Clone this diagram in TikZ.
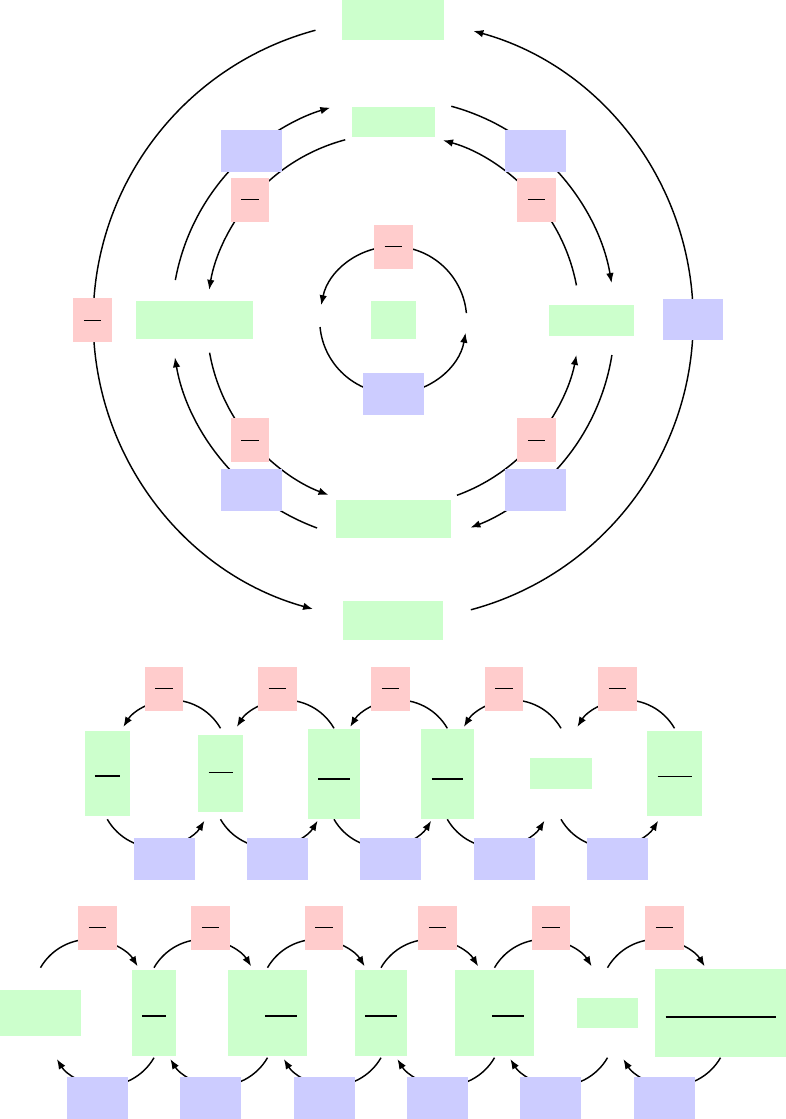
\documentclass[tikz,border=0pt]{standalone}
\usetikzlibrary{arrows.meta}
\pgfdeclarelayer{bg}
\pgfsetlayers{bg,main}
\newcommand\frbar[4]{\makebox[0pt]{\hspace{#3}\smash{\raisebox{#4}{\rule{#1}{#2}}}}}
\begin{document}
\begin{tikzpicture}[x=1pt,y=1pt,
  sp/.style={fill=green!20, inner sep=0pt, outer sep=0pt},
  rf/.style={fill=red!20, inner sep=0pt, outer sep=0pt, minimum width=38.5pt, minimum height=44pt},
  rb/.style={fill=blue!20, inner sep=0pt, outer sep=0pt, minimum width=61pt, minimum height=42pt},
  ln/.style={line width=1.45pt},
  ar/.style={line width=1.45pt, -{Latex[length=10pt,width=7.5pt]}},
]
\useasboundingbox (0,0) rectangle (786,-1119);

% ---------- circular network ----------
\coordinate (O) at (393.2,-320);
\node[sp, minimum width=102pt, minimum height=40pt] (gTo) at (393,-20) {};
\node[sp, minimum width=83pt, minimum height=30pt] (gTi) at (393.3,-121.7) {};
\node[rb] (bUL) at (251.5,-151) {};
\node[rb] (bUR) at (535.5,-151) {};
\node[rf] (pUL) at (250,-199.7) {\frbar{17.5pt}{1pt}{0pt}{-0.5pt}};
\node[rf] (pUR) at (536.5,-199.7) {\frbar{17.5pt}{1pt}{0pt}{-0.5pt}};
\node[rf] (pC) at (393.3,-246.8) {\frbar{17.5pt}{1pt}{0pt}{-0.5pt}};
\node[rf] (pL) at (92.5,-320) {\frbar{17.5pt}{1pt}{0pt}{-0.5pt}};
\node[sp, minimum width=116.7pt, minimum height=38.7pt] (gL) at (194.3,-320) {};
\node[sp, minimum width=45pt, minimum height=38.7pt] (gC) at (393.5,-320) {};
\node[sp, minimum width=85pt, minimum height=31pt] (gR) at (591.5,-320.5) {};
\node[rb, minimum width=60pt, minimum height=41pt] (bR) at (693,-319.5) {};
\node[rb] (bC) at (393.5,-394) {};
\node[rf] (pLL) at (250,-440.2) {\frbar{17.5pt}{1pt}{0pt}{-0.5pt}};
\node[rf] (pLR) at (536.5,-440.2) {\frbar{17.5pt}{1pt}{0pt}{-0.5pt}};
\node[rb] (bLL) at (251.5,-490) {};
\node[rb] (bLR) at (535.5,-490) {};
\node[sp, minimum width=115pt, minimum height=38pt] (gBi) at (393.5,-518.7) {};
\node[sp, minimum width=100pt, minimum height=39pt] (gBo) at (393,-620.5) {};

\begin{pgfonlayer}{bg}
% outer ring
\draw[ln] ([shift={(105:300pt)}]O) arc[start angle=105,end angle=180,radius=300pt];
\draw[ar] ([shift={(180:300pt)}]O) arc[start angle=180,end angle=254.5,radius=300pt];
\draw[ln] ([shift={(285:300pt)}]O) arc[start angle=285,end angle=360,radius=300pt];
\draw[ar] ([shift={(0:300pt)}]O) arc[start angle=0,end angle=74.5,radius=300pt];
% middle ring, outer arcs
\draw[ln] ([shift={(169.6:221.5pt)}]O) arc[start angle=169.6,end angle=130,radius=221.5pt];
\draw[ar] ([shift={(130:221.5pt)}]O) arc[start angle=130,end angle=106.5,radius=221.5pt];
\draw[ln] ([shift={(74.8:221.5pt)}]O) arc[start angle=74.8,end angle=50,radius=221.5pt];
\draw[ar] ([shift={(50:221.5pt)}]O) arc[start angle=50,end angle=9.6,radius=221.5pt];
\draw[ln] ([shift={(249.9:221.5pt)}]O) arc[start angle=249.9,end angle=230,radius=221.5pt];
\draw[ar] ([shift={(230:221.5pt)}]O) arc[start angle=230,end angle=189.7,radius=221.5pt];
\draw[ln] ([shift={(350.9:221.5pt)}]O) arc[start angle=350.9,end angle=310,radius=221.5pt];
\draw[ar] ([shift={(310:221.5pt)}]O) arc[start angle=310,end angle=290.4,radius=221.5pt];
% middle ring, inner arcs
\draw[ln] ([shift={(104.9:186.5pt)}]O) arc[start angle=104.9,end angle=140,radius=186.5pt];
\draw[ar] ([shift={(140:186.5pt)}]O) arc[start angle=140,end angle=170.7,radius=186.5pt];
\draw[ln] ([shift={(10.7:186.5pt)}]O) arc[start angle=10.7,end angle=40,radius=186.5pt];
\draw[ar] ([shift={(40:186.5pt)}]O) arc[start angle=40,end angle=74.5,radius=186.5pt];
\draw[ln] ([shift={(190.1:186.5pt)}]O) arc[start angle=190.1,end angle=220,radius=186.5pt];
\draw[ar] ([shift={(220:186.5pt)}]O) arc[start angle=220,end angle=249.7,radius=186.5pt];
\draw[ln] ([shift={(290:186.5pt)}]O) arc[start angle=290,end angle=320,radius=186.5pt];
\draw[ar] ([shift={(320:186.5pt)}]O) arc[start angle=320,end angle=349.2,radius=186.5pt];
% innermost ring
\draw[ln] ([shift={(5.4:73.5pt)}]O) arc[start angle=5.4,end angle=90,radius=73.5pt];
\draw[ar] ([shift={(90:73.5pt)}]O) arc[start angle=90,end angle=168.4,radius=73.5pt];
\draw[ln] ([shift={(185.5:73.5pt)}]O) arc[start angle=185.5,end angle=270,radius=73.5pt];
\draw[ar] ([shift={(270:73.5pt)}]O) arc[start angle=270,end angle=350,radius=73.5pt];
\end{pgfonlayer}

% ---------- chain 1 ----------
\node[sp, minimum width=44.7pt, minimum height=84.7pt] (g1) at (107.3,-773.3) {\frbar{25pt}{1.7pt}{0pt}{-3.25pt}};
\node[sp, minimum width=45pt, minimum height=76.7pt] (g2) at (220.5,-773.3) {\frbar{24pt}{1pt}{0pt}{0.5pt}};
\node[sp, minimum width=52pt, minimum height=90pt] (g3) at (334,-774) {\frbar{32pt}{2pt}{0pt}{-5.7pt}};
\node[sp, minimum width=52.7pt, minimum height=90pt] (g4) at (447.3,-774) {\frbar{31pt}{2pt}{0pt}{-5.7pt}};
\node[sp, minimum width=62pt, minimum height=31pt] (g5) at (561,-773.2) {};
\node[sp, minimum width=55pt, minimum height=84.7pt] (g6) at (674.5,-773.3) {\frbar{34pt}{1.3pt}{0pt}{-3.65pt}};
\foreach \i/\x in {1/164,2/277.3,3/390.6,4/504.2,5/617.5}
  \node[rf] (p\i) at (\x,-688.7) {\frbar{17.5pt}{1pt}{0pt}{-0.5pt}};
\foreach \i/\x in {1/164.5,2/277.5,3/390.8,4/504.5,5/617.5}
  \node[rb] (b\i) at (\x,-858.7) {};
\begin{pgfonlayer}{bg}
\foreach \a/\b in {107.3/220.5,220.5/334,334/447.3,447.3/561,561/674.5}{
  \draw[ln] (\b,-728.3) arc[start angle=29.9,end angle=95,radius=56.5pt] coordinate (m);
  \draw[ar] (m) arc[start angle=95,end angle=148.5,radius=56.5pt];
  \draw[ln] (\a,-819.3) arc[start angle=209.9,end angle=275,radius=56.5pt] coordinate (m);
  \draw[ar] (m) arc[start angle=275,end angle=328.5,radius=56.5pt];
}
\end{pgfonlayer}

% ---------- chain 2 ----------
\node[sp, minimum width=81pt, minimum height=45.7pt] (h1) at (40.5,-1012.8) {};
\node[sp, minimum width=44pt, minimum height=85.7pt] (h2) at (154,-1012.8) {\frbar{24pt}{1.7pt}{0pt}{-3.85pt}};
\node[sp, minimum width=79pt, minimum height=85.7pt] (h3) at (267.5,-1012.8) {\frbar{32pt}{2pt}{27pt}{-4pt}};
\node[sp, minimum width=52pt, minimum height=85.7pt] (h4) at (381,-1012.8) {\frbar{32pt}{2pt}{0pt}{-4pt}};
\node[sp, minimum width=79pt, minimum height=85.7pt] (h5) at (494.5,-1012.8) {\frbar{32pt}{2pt}{27pt}{-4pt}};
\node[sp, minimum width=61pt, minimum height=29.7pt] (h6) at (607.5,-1012.8) {};
\node[sp, minimum width=131pt, minimum height=87.7pt] (h7) at (720.5,-1012.8) {\frbar{110pt}{2pt}{0pt}{-5pt}};
\foreach \i/\x in {1/97.5,2/210.5,3/324,4/437.5,5/551,6/664.5}
  \node[rf] (q\i) at (\x,-927.7) {\frbar{17.5pt}{1pt}{0pt}{-0.5pt}};
\foreach \i/\x in {1/97.5,2/210.5,3/324.5,4/437.5,5/550.5,6/664.5}
  \node[rb] (c\i) at (\x,-1098) {};
\begin{pgfonlayer}{bg}
\foreach \a/\b in {40.5/154,154/267.5,267.5/381,381/494.5,494.5/607.5,607.5/720.5}{
  \draw[ln] (\a,-967.7) arc[start angle=150.1,end angle=85,radius=56.5pt] coordinate (m);
  \draw[ar] (m) arc[start angle=85,end angle=31.5,radius=56.5pt];
  \draw[ln] (\b,-1057.7) arc[start angle=-29.9,end angle=-95,radius=56.5pt] coordinate (m);
  \draw[ar] (m) arc[start angle=-95,end angle=-148.5,radius=56.5pt];
}
\end{pgfonlayer}
\end{tikzpicture}
\end{document}
